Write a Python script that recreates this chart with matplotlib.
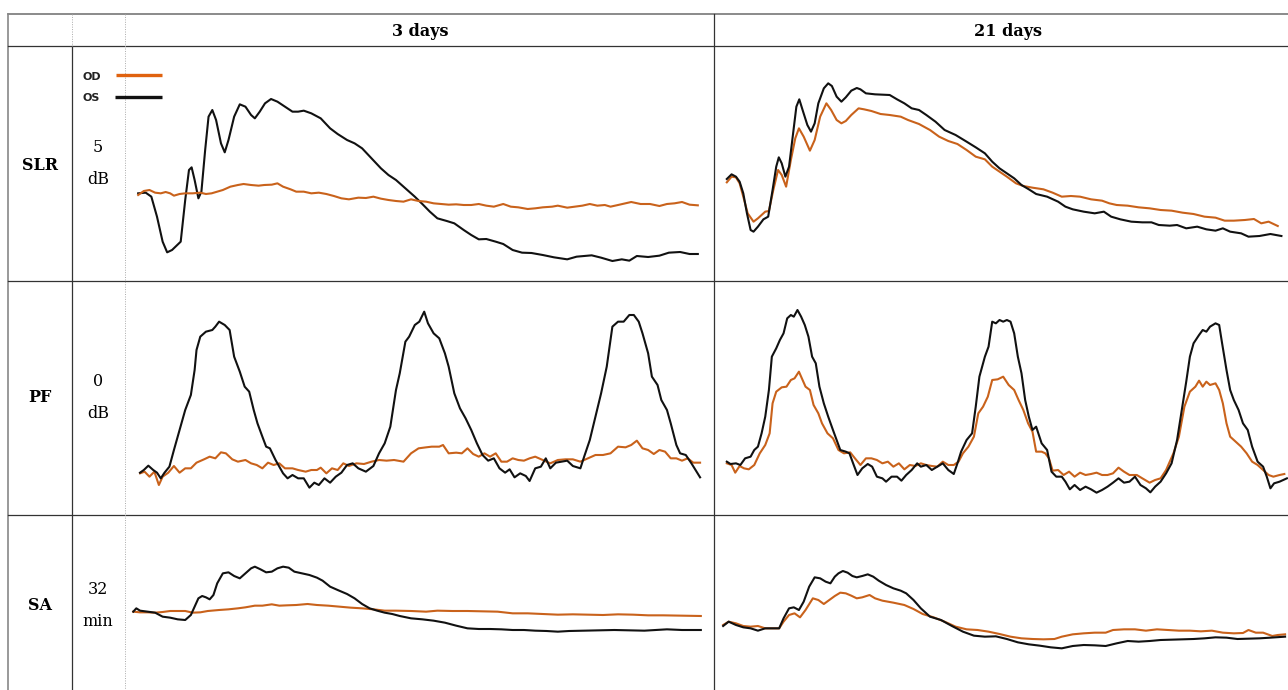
import numpy as np
import matplotlib
matplotlib.use("Agg")
import matplotlib.pyplot as plt

# column / row labels
days = ["3 days", "21 days"]
rows = ["SLR", "PF", "SA"]
scale_num = ["5", "0", "32"]
scale_unit = ["dB", "dB", "min"]

# traces: (t, amplitude) pairs, arbitrary units
SLR3_OS = np.array([(35,260),(55,262),(70,250),(85,190),(100,115),(112,83),(125,90),(148,115),(160,240),(170,330),
    (177,338),(185,300),(195,245),(203,265),(213,390),(222,490),(232,510),(242,480),(255,410),(265,383),(275,420),
    (290,490),(305,527),(320,520),(335,495),(345,485),(358,505),(372,530),(388,543),(405,535),(425,520),(445,505),
    (460,505),(475,508),(495,500),(520,485),(545,455),(565,438),(590,420),(610,410),(630,395),(655,365),(680,335),
    (700,315),(720,300),(745,275),(770,250),(790,228),(810,205),(830,185),(855,177),(875,170),(900,150),(920,135),
    (940,122),(960,123),(985,115),(1005,108),(1030,90),(1055,82),(1080,81),(1110,75),(1140,68),(1175,62),(1200,70),
    (1240,74),(1265,67),(1295,57),(1320,62),(1340,58),(1360,72),(1390,69),(1420,73),(1445,82),(1475,84),(1500,78),
    (1522,78)])
SLR3_OD = np.array([(35,255),(50,267),(65,270),(80,262),(95,260),(108,264),(120,260),(130,253),(145,258),(160,260),
    (180,260),(200,262),(215,258),(230,260),(245,265),(260,270),(280,280),(300,285),(315,288),(335,285),(355,283),
    (370,285),(390,286),(405,290),(420,280),(440,272),(455,265),(475,265),(495,260),(515,262),(535,258),(555,252),
    (575,245),(595,242),(620,247),(640,246),(660,250),(680,244),(700,240),(720,237),(740,235),(760,242),(780,237),
    (800,235),(820,230),(840,228),(860,226),(880,227),(900,225),(920,225),(940,228),(960,223),(980,220),(1005,228),
    (1025,220),(1045,218),(1070,213),(1090,215),(1110,218),(1135,220),(1150,223),(1175,217),(1195,220),(1215,223),
    (1235,228),(1255,223),(1275,225),(1290,220),(1310,225),(1345,234),(1370,228),(1395,228),(1420,222),(1440,228),
    (1460,230),(1480,234),(1500,226),(1522,224)])
SLR21_OS = np.array([(35,303),(48,317),(60,310),(70,295),(80,260),(90,200),(100,150),(108,145),(120,160),(135,182),
    (148,190),(160,270),(170,340),(177,368),(185,350),(195,310),(205,340),(215,430),(225,520),(233,542),(242,510),
    (255,465),(265,445),(275,470),(285,530),(300,575),(312,590),(322,582),(335,550),(348,535),(360,548),(375,568),
    (390,576),(400,572),(415,560),(440,557),(480,555),(500,542),(520,530),(540,515),(560,510),(580,495),(605,475),
    (630,450),(660,435),(690,415),(715,398),(740,380),(760,355),(780,335),(800,320),(820,305),(840,285),(860,272),
    (880,258),(910,250),(940,235),(960,220),(980,212),(1010,205),(1040,200),(1065,205),(1085,190),(1110,182),
    (1140,175),(1170,173),(1195,173),(1215,165),(1245,163),(1265,165),(1290,155),(1320,160),(1345,152),(1370,148),
    (1390,155),(1410,145),(1440,140),(1460,130),(1490,132),(1520,138),(1550,132)])
SLR21_OD = np.array([(35,293),(48,310),(60,308),(70,290),(80,250),(92,200),(108,175),(120,185),(140,205),(150,207),
    (162,270),(175,330),(185,315),(197,280),(210,360),(222,425),(232,455),(245,430),(262,388),(275,420),(290,490),
    (307,530),(320,510),(335,480),(348,470),(360,477),(375,495),(395,515),(410,512),(430,507),(455,498),(480,495),
    (510,490),(530,480),(560,468),(590,450),(615,430),(640,417),(665,408),(690,390),(715,370),(740,362),(760,340),
    (780,325),(800,310),(825,290),(845,282),(870,277),(900,272),(925,262),(950,250),(975,252),(1000,250),(1030,242),
    (1060,238),(1080,230),(1100,225),(1130,223),(1160,218),(1190,215),(1220,210),(1250,208),(1280,202),(1310,198),
    (1340,190),(1370,187),(1395,178),(1420,178),(1450,180),(1475,183),(1495,170),(1515,175),(1540,162)])

PF3_OS = np.array([(40,112),(50,120),(62,133),(75,120),(85,112),(95,95),(105,112),(118,130),(130,180),(145,240),
    (160,300),(175,345),(185,420),(190,480),(200,520),(215,535),(232,540),(240,550),(250,565),(265,555),(278,540),
    (290,460),(305,415),(318,370),(330,355),(342,300),(352,260),(365,220),(375,190),(385,185),(400,150),(420,110),
    (432,95),(445,105),(460,95),(475,95),(490,67),(503,82),(515,75),(530,95),(545,82),(560,100),(575,112),(590,135),
    (605,140),(620,125),(640,115),(660,132),(675,170),(690,200),(705,250),(720,360),(730,410),(745,505),(755,520),
    (770,555),(782,565),(795,595),(805,560),(820,530),(835,515),(850,470),(860,430),(875,350),(890,305),(905,275),
    (920,240),(935,200),(950,165),(965,148),(980,155),(995,125),(1010,112),(1022,122),(1035,98),(1050,110),
    (1065,102),(1075,87),(1090,125),(1105,130),(1118,155),(1130,125),(1145,142),(1160,145),(1175,148),(1190,132),
    (1210,125),(1220,160),(1235,210),(1250,280),(1265,350),(1280,430),(1295,550),(1310,565),(1325,565),(1340,585),
    (1352,585),(1365,565),(1375,530),(1390,470),(1400,400),(1415,375),(1425,330),(1440,300),(1450,260),(1465,195),
    (1475,170),(1490,165),(1505,140),(1528,98)])
PF3_OD = np.array([(40,110),(52,115),(65,100),(78,115),(90,75),(100,100),(115,112),(130,132),(145,112),(160,125),
    (175,125),(190,142),(210,152),(225,160),(240,155),(255,173),(268,170),(285,152),(300,145),(320,150),(335,140),
    (350,135),(365,125),(380,142),(395,135),(410,140),(425,125),(445,125),(460,120),(480,115),(495,120),(510,120),
    (520,127),(535,110),(550,125),(565,120),(580,140),(595,132),(615,140),(635,138),(655,145),(675,150),(695,148),
    (715,150),(740,145),(760,170),(780,185),(800,188),(815,190),(835,190),(845,195),(860,170),(880,172),(895,170),
    (910,185),(925,168),(940,160),(955,170),(970,160),(985,170),(1000,145),(1015,145),(1030,155),(1045,150),
    (1060,148),(1075,155),(1090,160),(1110,150),(1130,140),(1150,150),(1170,152),(1190,152),(1210,145),(1230,155),
    (1250,165),(1270,165),(1290,170),(1310,190),(1330,188),(1345,195),(1360,208),(1375,185),(1390,180),(1405,168),
    (1420,180),(1435,175),(1450,155),(1465,155),(1480,148),(1495,155),(1510,142),(1528,142)])
PF21_OS = np.array([(35,145),(45,138),(60,140),(72,135),(85,155),(100,160),(110,180),(120,190),(130,230),(140,280),
    (150,360),(158,460),(170,485),(180,510),(190,530),(200,575),(210,585),(218,580),(228,600),(238,580),(248,555),
    (258,520),(268,460),(278,440),(288,370),(300,320),(312,280),(325,240),(335,210),(345,180),(360,175),(370,170),
    (380,140),(392,105),(405,125),(420,138),(432,130),(445,100),(460,95),(470,85),(485,100),(500,100),(512,88),
    (525,105),(540,120),(555,140),(565,130),(580,135),(595,120),(610,130),(625,140),(640,120),(655,108),(665,140),
    (675,175),(690,210),(705,230),(715,310),(725,400),(740,460),(750,490),(760,565),(770,560),(780,570),(790,565),
    (800,570),(810,565),(820,530),(830,460),(840,410),(850,330),(860,280),(870,240),(880,250),(895,200),(910,180),
    (922,115),(935,100),(950,100),(960,85),(972,62),(985,75),(1000,60),(1015,70),(1030,62),(1045,52),(1060,60),
    (1075,70),(1090,82),(1105,95),(1120,82),(1135,85),(1150,100),(1165,75),(1180,65),(1192,53),(1205,70),(1220,85),
    (1235,110),(1250,140),(1265,210),(1275,280),(1290,385),(1300,460),(1310,500),(1325,525),(1335,540),(1345,535),
    (1355,550),(1370,560),(1380,555),(1388,500),(1400,420),(1410,360),(1420,330),(1433,300),(1445,260),(1458,240),
    (1470,190),(1485,145),(1500,130),(1510,100),(1520,65),(1530,80),(1545,85),(1565,95)])
PF21_OD = np.array([(35,140),(48,135),(58,112),(70,132),(82,125),(95,122),(110,135),(125,170),(140,195),(152,230),
    (160,320),(170,355),(185,368),(198,370),(210,390),(220,395),(232,415),(240,395),(250,370),(262,360),(272,315),
    (285,290),(295,260),(310,230),(325,215),(340,180),(355,170),(372,173),(385,155),(400,135),(415,155),(430,155),
    (445,150),(460,140),(475,145),(490,130),(505,140),(520,122),(535,135),(550,132),(565,140),(580,135),(595,132),
    (610,130),(625,145),(640,135),(655,135),(668,145),(680,170),(695,190),(710,220),(722,290),(735,310),(748,340),
    (760,390),(775,392),(790,400),(805,375),(820,360),(832,330),(845,300),(858,260),(870,235),(880,175),(895,175),
    (905,170),(915,155),(925,118),(940,120),(955,105),(970,115),(985,100),(1000,112),(1015,105),(1030,108),
    (1045,112),(1060,105),(1075,105),(1090,110),(1105,127),(1120,115),(1135,105),(1155,105),(1170,95),(1190,82),
    (1205,90),(1220,95),(1235,120),(1255,170),(1270,220),(1285,310),(1300,355),(1315,370),(1325,388),(1335,370),
    (1345,385),(1355,375),(1370,380),(1380,360),(1390,320),(1400,260),(1410,220),(1425,205),(1440,190),(1455,170),
    (1470,145),(1485,135),(1500,120),(1515,105),(1528,100),(1545,105),(1558,108)])

SA3_OS = np.array([(22,115),(30,125),(40,118),(60,115),(80,112),(100,100),(120,97),(140,92),(160,90),(175,105),
    (185,130),(195,155),(205,162),(215,158),(225,152),(235,165),(245,200),(260,230),(275,233),(290,222),(305,215),
    (320,230),(335,245),(345,250),(360,242),(375,233),(390,235),(405,245),(420,250),(435,247),(450,235),(470,230),
    (490,225),(510,217),(525,208),(545,190),(565,180),(590,168),(610,155),(630,138),(650,125),(670,118),(690,112),
    (710,108),(730,102),(760,95),(790,92),(820,88),(850,82),(880,73),(910,65),(940,63),(970,63),(1000,62),(1030,60),
    (1060,60),(1090,58),(1120,57),(1150,55),(1180,57),(1220,58),(1260,59),(1300,60),(1340,59),(1380,58),(1410,60),
    (1440,62),(1480,60),(1530,60)])
SA3_OD = np.array([(22,115),(40,113),(60,113),(80,112),(100,114),(120,117),(140,117),(160,117),(180,112),(200,113),
    (220,117),(250,120),(275,122),(300,125),(320,128),(345,133),(365,133),(390,137),(410,133),(430,134),(455,135),
    (485,138),(510,135),(540,133),(570,130),(600,127),(630,125),(660,122),(690,118),(720,118),(760,117),(800,115),
    (830,118),(870,117),(910,117),(950,116),(990,115),(1030,110),(1070,110),(1110,108),(1150,106),(1190,107),
    (1230,106),(1270,105),(1310,107),(1350,106),(1390,104),(1430,104),(1480,103),(1530,102)])
SA21_OS = np.array([(25,72),(40,85),(60,75),(80,68),(100,65),(120,58),(140,65),(160,65),(178,65),(190,95),(205,125),
    (218,128),(232,120),(245,145),(260,190),(275,218),(290,215),(305,205),(318,200),(330,220),(340,230),(352,237),
    (365,232),(378,222),(390,218),(405,222),(420,227),(435,220),(450,208),(470,195),(490,185),(510,178),(525,170),
    (545,150),(565,125),(590,100),(620,90),(650,72),(680,55),(710,43),(740,40),(770,41),(800,33),(830,23),(860,17),
    (890,13),(920,8),(950,5),(980,12),(1010,15),(1040,14),(1070,12),(1100,20),(1130,27),(1160,25),(1190,27),
    (1220,30),(1250,31),(1280,32),(1310,33),(1340,35),(1370,38),(1400,37),(1430,33),(1460,34),(1490,35),(1520,37),
    (1560,40)])
SA21_OD = np.array([(25,75),(40,85),(60,80),(80,72),(100,70),(120,72),(140,65),(160,65),(178,65),(190,85),(205,105),
    (220,110),(235,98),(250,120),(270,155),(285,150),(300,138),(315,150),(330,162),(345,172),(360,170),(375,163),
    (390,155),(405,158),(425,165),(440,155),(460,148),(490,142),(520,135),(545,123),(570,108),(600,98),(630,85),
    (660,70),(690,62),(720,60),(750,55),(780,48),(810,40),(840,35),(870,33),(900,32),(930,33),(950,40),(980,47),
    (1010,50),(1040,52),(1070,52),(1090,60),(1120,62),(1150,62),(1180,58),(1210,62),(1240,60),(1270,58),(1300,58),
    (1330,56),(1360,58),(1390,52),(1420,50),(1445,51),(1460,60),(1480,52),(1500,52),(1525,42),(1540,45),(1560,47)])

traces = {
    ("SLR", 0): (SLR3_OD, SLR3_OS), ("SLR", 1): (SLR21_OD, SLR21_OS),
    ("PF", 0): (PF3_OD, PF3_OS), ("PF", 1): (PF21_OD, PF21_OS),
    ("SA", 0): (SA3_OD, SA3_OS), ("SA", 1): (SA21_OD, SA21_OS),
}
ylims = {"SLR": (-3, 702), "PF": (-15, 687), "SA": (-120, 405)}
# time span shown in each column (same units as t above)
xlims = [(0, 1565), (0, 1568)]

OD_COLOR = "#C9621B"
OS_COLOR = "#111111"

W, H = 1288, 690
fig = plt.figure(figsize=(W / 100, H / 100), dpi=100)

# table grid (pixel coords)
col_x = [8, 72, 125, 714, 1288]
row_y = [14, 46, 281, 515, 690]

grid = fig.add_axes([0, 0, 1, 1])
grid.set_xlim(0, W)
grid.set_ylim(H, 0)
grid.axis("off")
grid.plot([8, W], [14, 14], color="#777777", lw=1.2)
grid.plot([8, 8], [14, H], color="#888888", lw=1.2)
for y in row_y[1:4]:
    grid.plot([8, W], [y, y], color="#333333", lw=0.9)
grid.plot([72, 72], [46, H], color="#333333", lw=0.9)
grid.plot([72, 72], [14, 46], color="#aaaaaa", lw=0.7, ls=(0, (1, 1.5)))
grid.plot([125, 125], [14, H], color="#aaaaaa", lw=0.7, ls=(0, (1, 1.5)))
grid.plot([714, 714], [14, H], color="#333333", lw=0.9)

serif = "DejaVu Serif"
head_x = [420, 1008]
for j, d in enumerate(days):
    grid.text(head_x[j], 31, d, ha="center", va="center", family=serif, weight="bold", fontsize=11.5)

row_cy = [165, 398, 606]
for i, r in enumerate(rows):
    cy = row_cy[i]
    grid.text(40, cy, r, ha="center", va="center", family=serif, weight="bold", fontsize=11.5)
    grid.text(98, cy - 17, scale_num[i], ha="center", va="center", family=serif, fontsize=11.5)
    grid.text(98, cy + 15, scale_unit[i], ha="center", va="center", family=serif, fontsize=11.5)

# legend
grid.text(83, 77, "OD", ha="left", va="center", family="DejaVu Sans", weight="bold", fontsize=8, color="#222222")
grid.text(83, 98, "OS", ha="left", va="center", family="DejaVu Sans", weight="bold", fontsize=8, color="#222222")
grid.plot([116, 162], [75, 75], color="#E0620F", lw=2.4, solid_capstyle="butt")
grid.plot([115, 162], [97, 97], color="#111111", lw=2.4, solid_capstyle="butt")

# trace cells
for (r, j), (od, os_) in traces.items():
    i = rows.index(r)
    x0, x1 = col_x[2 + j], col_x[3 + j]
    y0, y1 = row_y[1 + i], row_y[2 + i]
    ax = fig.add_axes([x0 / W, 1 - y1 / H, (x1 - x0) / W, (y1 - y0) / H])
    ax.set_xlim(*xlims[j])
    ax.set_ylim(*ylims[r])
    ax.axis("off")
    ax.plot(od[:, 0], od[:, 1], color=OD_COLOR, lw=1.5, zorder=2)
    ax.plot(os_[:, 0], os_[:, 1], color=OS_COLOR, lw=1.5, zorder=3 if (r != "SLR" or j) else 1)

fig.savefig("out.png", dpi=100)
